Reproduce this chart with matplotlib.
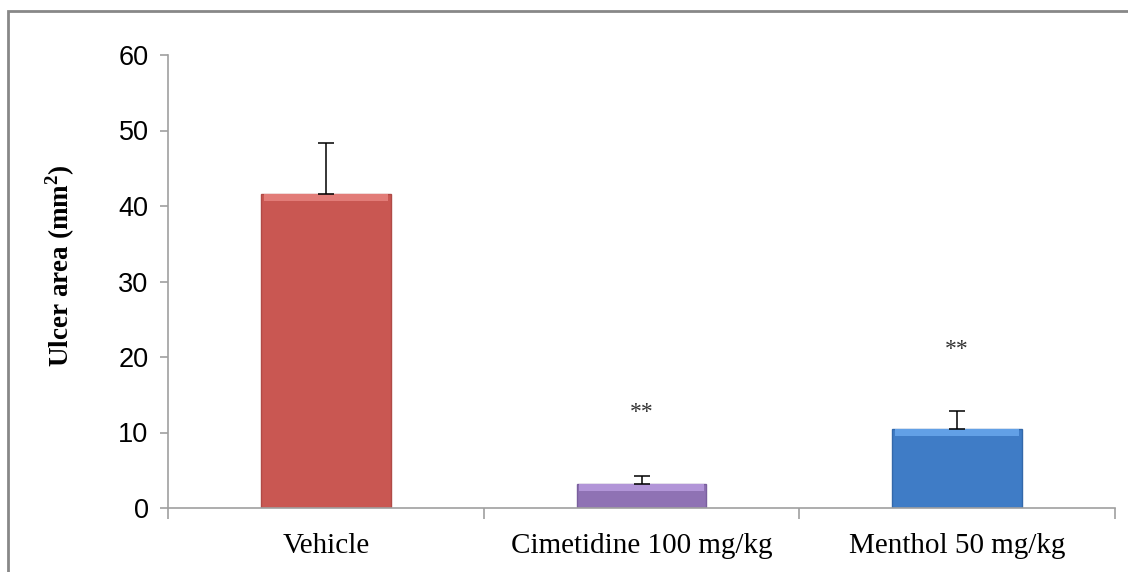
import numpy as np
import matplotlib.pyplot as plt
from matplotlib.patches import Rectangle

groups = ['Vehicle', 'Cimetidine 100 mg/kg', 'Menthol 50 mg/kg']
ulcer_area = [41.6, 3.2, 10.5]
sem = [6.8, 1.0, 2.3]
signif = ['', '**', '**']
signif_y = [0, 12.6, 21.0]
bar_colors = ['#C95752', '#8F72B4', '#3F7CC6']
edge_colors = ['#B04A46', '#7A5F9E', '#3368AA']
top_colors = ['#E27C78', '#B295D8', '#62A0E6']

fig = plt.figure(figsize=(11.28, 5.72), dpi=100)
ax = fig.add_axes([168 / 1128, 1 - 508 / 572, (1115 - 168) / 1128, (508 - 55) / 572])

x = np.arange(len(groups))
width = 0.41
ax.bar(x, ulcer_area, width=width, color=bar_colors, edgecolor=edge_colors,
       linewidth=1.0, zorder=2)
# thin lighter band along the top of each bar, a rough stand-in for the bevel
band = 0.9
ax.bar(x, [band] * len(x), bottom=np.array(ulcer_area) - band, width=width * 0.96,
       color=top_colors, linewidth=0, zorder=2.5)
# only the upper half of the error bar is drawn
ax.errorbar(x, ulcer_area, yerr=[np.zeros(len(sem)), sem], fmt='none',
            ecolor='black', elinewidth=1.1, capsize=6, capthick=1.1, zorder=3)

for xi, s, sy in zip(x, signif, signif_y):
    if s:
        ax.text(xi, sy, s, ha='center', va='center', fontsize=17,
                family='Liberation Serif', color='#333333')

ax.set_xlim(-0.5, len(groups) - 0.5)
ax.set_ylim(0, 60)
ax.set_yticks(range(0, 61, 10))
ax.set_xticks(x)
ax.set_xticklabels(groups, family='Liberation Serif', fontsize=21)
ax.set_xticks(np.arange(-0.5, len(groups)), minor=True)
ax.tick_params(axis='x', which='major', length=0, pad=18)
ax.tick_params(axis='x', which='minor', length=8, width=1.2, color='#A0A0A0',
               direction='out')
ax.tick_params(axis='y', length=6, width=1.2, color='#A0A0A0', pad=8,
               labelsize=19.5)
for lab in ax.get_yticklabels():
    lab.set_family('Liberation Sans')

ax.set_ylabel('Ulcer area (mm$^\\mathregular{2}$)', family='Liberation Serif',
              fontsize=19.5, fontweight='bold', labelpad=30)
ax.yaxis.label.set_y(0.535)

for side in ['top', 'right']:
    ax.spines[side].set_visible(False)
for side in ['left', 'bottom']:
    ax.spines[side].set_color('#A0A0A0')
    ax.spines[side].set_linewidth(1.2)

# outer chart frame (cut off at right and bottom)
fig.patches.append(Rectangle((8 / 1128, -0.1), 1.2, 1 - 11 / 572 + 0.1,
                             transform=fig.transFigure, fill=False,
                             edgecolor='#888888', linewidth=2))

fig.savefig('out.png', dpi=100)
